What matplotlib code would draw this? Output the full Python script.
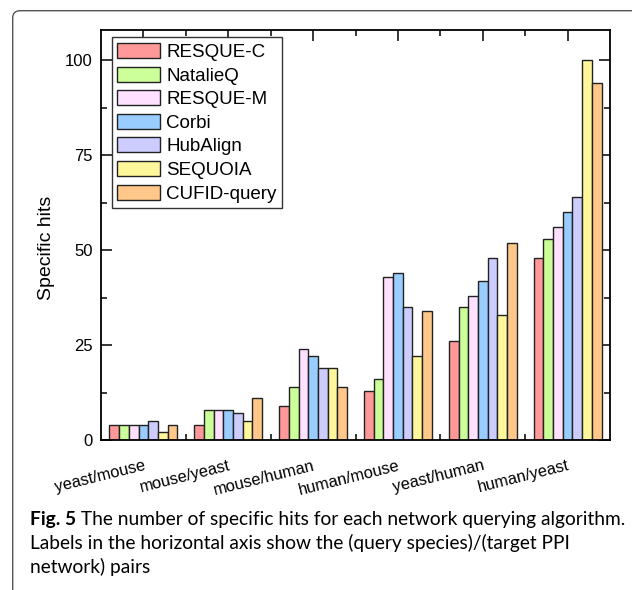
import numpy as np
import matplotlib
matplotlib.use("Agg")
import matplotlib.pyplot as plt
from matplotlib.patches import FancyBboxPatch
from matplotlib.ticker import FixedLocator, MultipleLocator

# data
pairs = ["yeast/mouse", "mouse/yeast", "mouse/human",
         "human/mouse", "yeast/human", "human/yeast"]
methods = ["RESQUE-C", "NatalieQ", "RESQUE-M", "Corbi",
           "HubAlign", "SEQUOIA", "CUFID-query"]
resque_c = [4, 4, 9, 13, 26, 48]
natalieq = [4, 8, 14, 16, 35, 53]
resque_m = [4, 8, 24, 43, 38, 56]
corbi = [4, 8, 22, 44, 42, 60]
hubalign = [5, 7, 19, 35, 48, 64]
sequoia = [2, 5, 19, 22, 33, 100]
cufid = [4, 11, 14, 34, 52, 94]
series = [resque_c, natalieq, resque_m, corbi, hubalign, sequoia, cufid]

colors = ["#FF9999", "#CCFF99", "#FFE0FF", "#99CCFF",
          "#CCCCFF", "#FFF799", "#FFC88A"]

plt.rcParams["font.family"] = ["Liberation Sans", "DejaVu Sans"]

fig = plt.figure(figsize=(6.32, 5.9), dpi=100)
ax = fig.add_axes([101/632, 1 - 440/590, 509/632, 410/590])

x = np.arange(len(pairs))
n = len(series)
w = 0.8 / n
for i, (vals, name, c) in enumerate(zip(series, methods, colors)):
    ax.bar(x + (i - (n - 1) / 2) * w, vals, width=w, color=c,
           edgecolor="#222222", linewidth=1.0, label=name, zorder=2)

ax.set_xlim(-0.5, len(pairs) - 0.5)
ax.set_ylim(0, 108)
ax.set_yticks([0, 25, 50, 75, 100])
ax.yaxis.set_minor_locator(MultipleLocator(12.5))
ax.set_xticks(x)
ax.xaxis.set_minor_locator(FixedLocator(x[:-1] + 0.5))

ax.set_xticklabels(pairs, rotation=14, ha="right", va="top",
                   rotation_mode="anchor", fontsize=11.8)
ax.tick_params(axis="both", which="both", direction="in",
               top=True, right=True, width=1.1)
ax.tick_params(axis="both", which="major", length=8)
ax.tick_params(axis="both", which="minor", length=4.5)
ax.tick_params(axis="x", which="major", pad=13)
ax.tick_params(axis="y", labelsize=12, pad=6)
for s in ax.spines.values():
    s.set_linewidth(1.3)

ax.set_ylabel("Specific hits", fontsize=14)
ax.yaxis.set_label_coords(-0.090, 0.468)

leg = ax.legend(loc="upper left", bbox_to_anchor=(0.021, 0.982),
                borderaxespad=0, fontsize=13.5, fancybox=False,
                edgecolor="#333333", framealpha=1, handlelength=2.25,
                handleheight=0.85, handletextpad=0.35, labelspacing=0.3,
                borderpad=0.3)
leg.get_frame().set_linewidth(1.0)

# rounded frame of the figure panel
frame = FancyBboxPatch((12.7 / 632, -0.1), 1.2, 1.1 - 10.7 / 590,
                       boxstyle="round,pad=0,rounding_size=0.012",
                       transform=fig.transFigure, facecolor="none",
                       edgecolor="#555555", linewidth=1.0, clip_on=False)
fig.patches.append(frame)

# caption, sized so the first line spans the panel like the original
cf = ["Lato", "DejaVu Sans"]
x0 = 30 / 632
fs = 14
head = fig.text(x0, 1 - 525 / 590, "Fig. 5", fontsize=fs, family=cf,
                fontweight="bold", va="baseline")
rest = fig.text(x0, 1 - 525 / 590,
                " The number of specific hits for each network querying algorithm.",
                fontsize=fs, family=cf, va="baseline")
for _ in range(2):
    fig.canvas.draw()
    wh = head.get_window_extent().width
    rest.set_x(x0 + wh / 632)
    fig.canvas.draw()
    total = wh + rest.get_window_extent().width
    fs = fs * 594 / total
    head.set_fontsize(fs)
    rest.set_fontsize(fs)
fig.canvas.draw()
rest.set_x(x0 + head.get_window_extent().width / 632)
fig.text(x0, 1 - 549 / 590,
         "Labels in the horizontal axis show the (query species)/(target PPI",
         fontsize=fs, family=cf, va="baseline")
fig.text(x0, 1 - 573 / 590, "network) pairs", fontsize=fs, family=cf,
         va="baseline")

fig.savefig("out.png", dpi=100)
